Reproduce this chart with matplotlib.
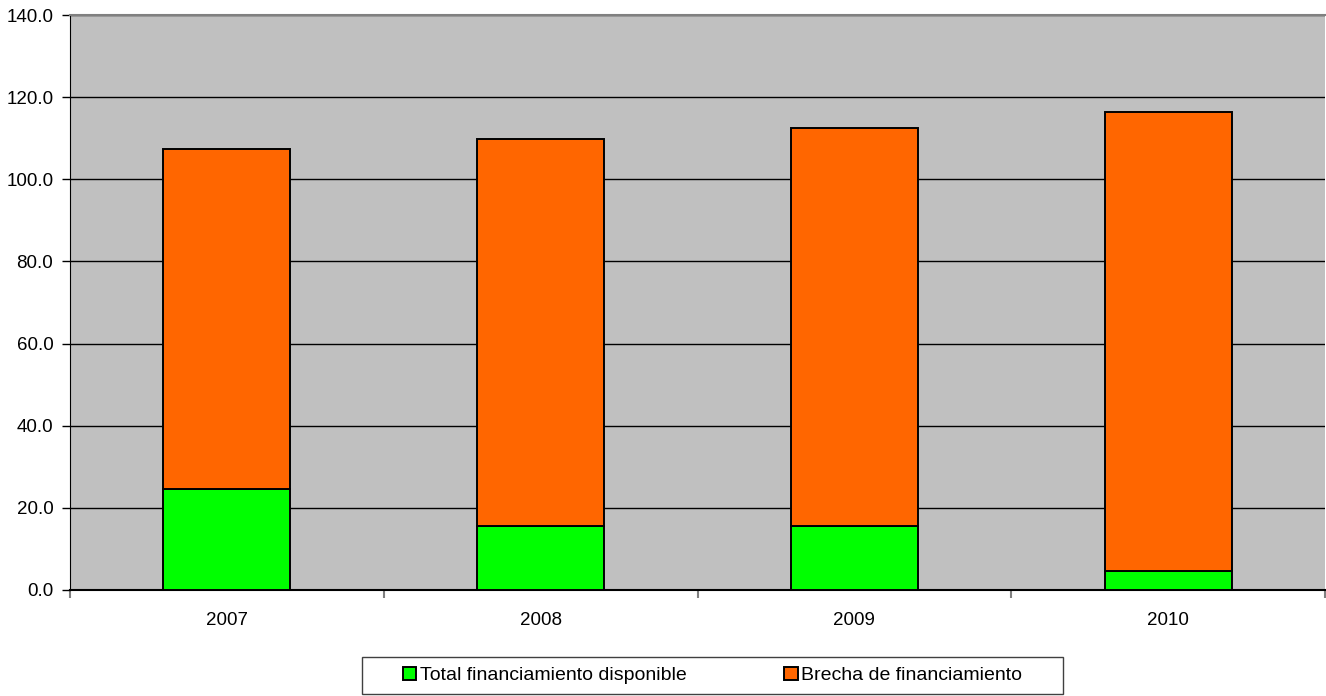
import numpy as np
import matplotlib
matplotlib.use("Agg")
import matplotlib.pyplot as plt
from matplotlib.patches import Rectangle

plt.rcParams['font.family'] = ['Liberation Sans', 'DejaVu Sans']

years = ['2007', '2008', '2009', '2010']
disponible = [24.5, 15.6, 15.6, 4.6]
brecha = [82.9, 94.2, 97.0, 111.9]
y_ticks = [0, 20, 40, 60, 80, 100, 120, 140]

W, H = 1326, 696
fig = plt.figure(figsize=(W / 100, H / 100), dpi=100)
ax = fig.add_axes([70 / W, 106 / H, 1255 / W, 575 / H])
ax.set_facecolor('#c0c0c0')

x = np.arange(len(years))
w = 0.405
ax.bar(x, disponible, w, color='#00ff00', edgecolor='black', linewidth=1.4,
       label='Total financiamiento disponible', zorder=3)
ax.bar(x, brecha, w, bottom=disponible, color='#ff6600', edgecolor='black',
       linewidth=1.4, label='Brecha de financiamiento', zorder=3)

ax.set_ylim(0, 140)
ax.set_xlim(-0.5, len(years) - 0.5)
ax.set_yticks(y_ticks)
ax.set_yticklabels([f'{v:.1f}' for v in y_ticks])
ax.yaxis.grid(True, color='black', linewidth=1)
ax.set_axisbelow(True)

# category boundaries get the ticks, labels sit in the middle
ax.set_xticks(np.arange(-0.5, len(years), 1.0))
ax.set_xticklabels([])
ax.set_xticks(x, minor=True)
ax.set_xticklabels(years, minor=True)
ax.tick_params(axis='x', which='major', length=6, width=1.5, color='#808080')
ax.tick_params(axis='x', which='minor', length=0, pad=16, labelsize=13.5)
ax.tick_params(axis='y', length=6, width=1, pad=6, labelsize=13.5)

ax.spines['left'].set_color('black')
ax.spines['bottom'].set_color('black')
ax.spines['bottom'].set_linewidth(1.5)
ax.spines['top'].set_color('#808080')
ax.spines['top'].set_linewidth(1.5)
ax.spines['right'].set_visible(False)

# legend box drawn by hand (Excel-style wide padding)
fig.patches.append(Rectangle((362 / W, 1 - 694 / H), 701 / W, 37 / H,
                             transform=fig.transFigure, facecolor='white',
                             edgecolor='#404040', linewidth=1))
fig.legend(loc='center', bbox_to_anchor=(712.5 / W, 1 - 675.5 / H),
           ncol=2, fontsize=14, frameon=False,
           handlelength=0.7, handleheight=0.7, handletextpad=0.2,
           columnspacing=5.0, borderpad=0, borderaxespad=0)

fig.savefig('out.png', dpi=100)
